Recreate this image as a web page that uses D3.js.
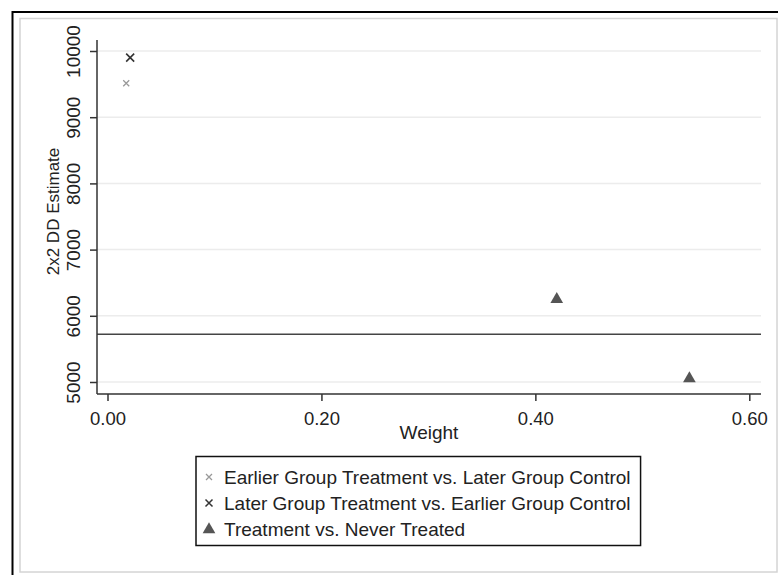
<!DOCTYPE html>
<html>
<head>
<meta charset="utf-8">
<script src="https://cdn.jsdelivr.net/npm/d3@7"></script>
<style>
  body { margin: 0; background: #fff; }
  svg text { font-family: "Liberation Sans", Arial, sans-serif; fill: #222; }
</style>
</head>
<body>
<div id="chart"></div>
<script>
// data
var seriesNames = [
  "Earlier Group Treatment vs. Later Group Control",
  "Later Group Treatment vs. Earlier Group Control",
  "Treatment vs. Never Treated"
];
var earlierWeight = [0.0175];
var earlierEstimate = [9512];
var laterWeight = [0.0212];
var laterEstimate = [9899];
var neverWeight = [0.420, 0.544];
var neverEstimate = [6264, 5065];
var overallEstimate = 5720;
var xTicks = [0, 0.2, 0.4, 0.6];
var yTicks = [5000, 6000, 7000, 8000, 9000, 10000];

var W = 778, H = 575;
var svg = d3.select("#chart").append("svg")
  .attr("width", W).attr("height", H);

// frames
svg.append("rect").attr("x", 20).attr("y", 18.5).attr("width", 757).attr("height", 553.5)
  .attr("fill", "none").attr("stroke", "#d4d4d4").attr("stroke-width", 1.5);
svg.append("path").attr("d", "M12.5,575V12H778")
  .attr("fill", "none").attr("stroke", "#000").attr("stroke-width", 2);

var x = d3.scaleLinear().domain([0, 0.6]).range([107.5, 749.3]);
var y = d3.scaleLinear().domain([5000, 10000]).range([382, 51]);
var plotL = 97, plotR = 761, plotT = 40, plotB = 394;

// grid
svg.append("g").selectAll("line").data(yTicks).enter().append("line")
  .attr("x1", plotL).attr("x2", plotR)
  .attr("y1", d => y(d)).attr("y2", d => y(d))
  .attr("stroke", "#ececec").attr("stroke-width", 1.5);

// reference line
svg.append("line")
  .attr("x1", plotL).attr("x2", plotR)
  .attr("y1", y(overallEstimate)).attr("y2", y(overallEstimate))
  .attr("stroke", "#444").attr("stroke-width", 1.5);

// axes
var yAxis = d3.axisLeft(y).tickValues(yTicks).tickSize(7).tickFormat(d3.format("d"));
var gy = svg.append("g").attr("transform", "translate(" + plotL + ",0)").call(yAxis);
gy.select(".domain").remove();
gy.append("line").attr("x1", 0).attr("x2", 0).attr("y1", plotT).attr("y2", plotB)
  .attr("stroke", "#333").attr("stroke-width", 1.5);
gy.selectAll(".tick line").attr("stroke", "#333").attr("stroke-width", 1.5);
gy.selectAll(".tick text")
  .attr("x", 0).attr("dy", null)
  .attr("transform", "translate(-17.5,0) rotate(-90)")
  .attr("text-anchor", "middle")
  .attr("font-size", "19px").attr("fill", "#222");

var xAxis = d3.axisBottom(x).tickValues(xTicks).tickSize(7).tickFormat(d3.format(".2f"));
var gx = svg.append("g").attr("transform", "translate(0," + plotB + ")").call(xAxis);
gx.select(".domain").remove();
gx.append("line").attr("x1", plotL).attr("x2", plotR).attr("y1", 0).attr("y2", 0)
  .attr("stroke", "#333").attr("stroke-width", 1.5);
gx.selectAll(".tick line").attr("stroke", "#333").attr("stroke-width", 1.5);
gx.selectAll(".tick text").attr("y", 30.5).attr("dy", null)
  .attr("font-size", "18.5px").attr("fill", "#222");

// axis titles
svg.append("text").attr("x", (plotL + plotR) / 2).attr("y", 438.5)
  .attr("text-anchor", "middle").attr("font-size", "19px").text("Weight");
svg.append("text").attr("transform", "translate(58.5,211.5) rotate(-90)")
  .attr("text-anchor", "middle").attr("font-size", "17px").text("2x2 DD Estimate");

// markers
function cross(g, cx, cy, r, color, sw) {
  g.append("path")
    .attr("d", "M" + (cx - r) + "," + (cy - r) + "L" + (cx + r) + "," + (cy + r) +
               "M" + (cx - r) + "," + (cy + r) + "L" + (cx + r) + "," + (cy - r))
    .attr("stroke", color).attr("stroke-width", sw).attr("fill", "none");
}
var tri = d3.symbol().type(d3.symbolTriangle).size(70);

var pts = svg.append("g");
earlierWeight.forEach((w, i) => cross(pts, x(w), y(earlierEstimate[i]), 3, "#999", 1.3));
laterWeight.forEach((w, i) => cross(pts, x(w), y(laterEstimate[i]), 4, "#333", 1.6));
pts.selectAll("path.tri").data(neverWeight).enter().append("path")
  .attr("class", "tri")
  .attr("d", tri)
  .attr("transform", (d, i) => "translate(" + x(d) + "," + (y(neverEstimate[i]) + 1) + ")")
  .attr("fill", "#555");

// legend
var leg = svg.append("g");
var rowY = [483.5, 509.5, 535.5];
var texts = leg.selectAll("text").data(seriesNames).enter().append("text")
  .attr("x", 224).attr("y", (d, i) => rowY[i])
  .attr("font-size", "19px").text(d => d);
var maxW = 0;
texts.each(function() { maxW = Math.max(maxW, this.getComputedTextLength()); });
leg.insert("rect", "text").attr("x", 196).attr("y", 456.5)
  .attr("width", 224 + maxW + 10 - 196).attr("height", 89)
  .attr("fill", "none").attr("stroke", "#111").attr("stroke-width", 1.5);
cross(leg, 209, rowY[0] - 6.5, 3, "#999", 1.3);
cross(leg, 209, rowY[1] - 6.5, 3.5, "#333", 1.5);
leg.append("path").attr("d", tri).attr("transform", "translate(209," + (rowY[2] - 6) + ")")
  .attr("fill", "#555");
</script>
</body>
</html>
